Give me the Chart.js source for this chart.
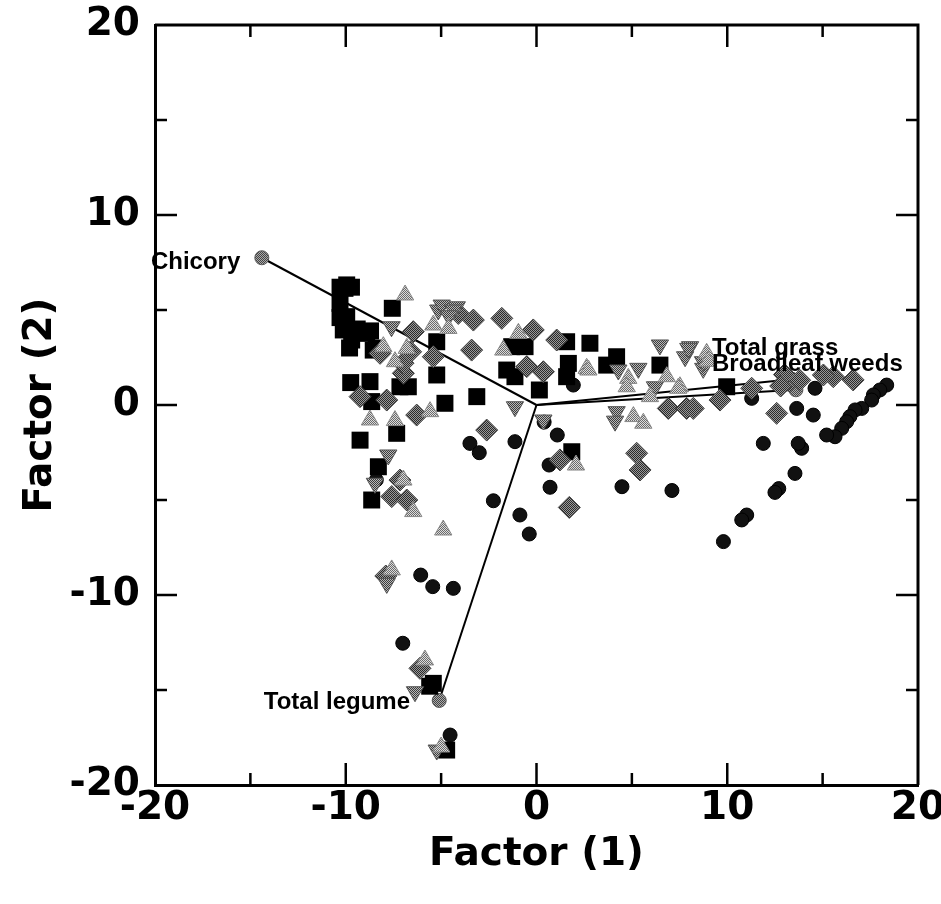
<!DOCTYPE html>
<html><head><meta charset="utf-8">
<script src="https://cdn.jsdelivr.net/npm/chart.js@4"></script>
<style>html,body{margin:0;padding:0;background:#fff}</style>
</head><body>
<canvas id="c" width="941" height="904" style="display:block"></canvas>
<script>
// ---- tick values ----
const majorTicks = [-20, -10, 0, 10, 20];
const minorTicks = [-15, -5, 5, 15];

// ---- black circles ----
const circleX = [18.36,18.0,17.66,17.57,17.05,16.7,16.43,16.26,16.0,15.65,15.21,14.6,14.51,13.64,13.9,13.72,13.55,12.7,12.5,11.02,10.76,9.8,11.89,11.28,
  1.93,-3.49,-3.0,-1.13,1.09,0.66,0.71,-0.87,-0.38,-2.26,-6.07,-5.44,-4.36,-8.4,-7.01,-4.53,4.48,7.1,0.4];
const circleY = [1.05,0.79,0.53,0.26,-0.18,-0.26,-0.61,-0.88,-1.23,-1.67,-1.58,0.88,-0.53,-0.18,-2.28,-2.02,-3.6,-4.4,-4.6,-5.79,-6.05,-7.19,-2.02,0.35,
  1.05,-2.02,-2.51,-1.93,-1.58,-3.16,-4.33,-5.79,-6.79,-5.04,-8.95,-9.56,-9.65,-3.95,-12.54,-17.37,-4.3,-4.5,-0.9];

// ---- black squares ----
const squareX = [-10.04,-10.3,-9.95,-10.13,-9.69,-8.9,-8.56,-9.95,-10.3,-9.7,-10.3,-9.4,-9.8,-8.7,-8.4,
  -7.56,-5.23,-5.23,-4.8,-9.74,-8.73,-8.64,-7.33,-9.25,-8.29,-8.64,-7.16,-6.72,-3.13,
  -1.3,-0.6,-1.56,-1.13,0.15,1.58,2.8,1.67,1.58,3.68,4.2,1.85,6.47,9.97,-5.41,-5.6,-4.71];
const squareY = [6.14,5.35,4.65,3.95,3.42,3.77,2.89,6.32,6.2,6.2,4.6,4.0,3.0,3.9,3.0,
  5.09,3.33,1.58,0.09,1.18,1.23,0.18,-1.49,-1.85,-3.25,-5.0,0.96,0.96,0.44,
  3.07,3.07,1.84,1.49,0.79,3.33,3.25,2.19,1.49,2.1,2.54,-2.46,2.1,0.96,-14.65,-14.8,-18.16];

// ---- dark grey diamonds ----
const diamondX = [-6.46,-5.41,-3.4,-3.31,-6.98,-6.28,-8.2,-9.25,-7.85,-1.82,-0.17,1.06,-4.1,0.36,-0.51,-2.61,1.23,5.25,5.43,6.91,7.87,1.72,
  9.62,11.28,13.29,15.56,16.6,8.22,15.04,12.59,13.0,13.8,12.8,-7.59,-6.8,-7.16,-6.11,-7.9,-7.0,-6.6];
const diamondY = [3.86,2.54,2.89,4.47,1.67,-0.53,2.72,0.44,0.26,4.56,3.95,3.42,4.82,1.75,2.02,-1.32,-2.89,-2.54,-3.42,-0.18,-0.18,-5.39,
  0.26,0.88,1.23,1.49,1.32,-0.18,1.58,-0.44,1.6,1.3,1.0,-4.82,-5.0,-3.95,-13.86,-9.0,2.2,2.8];

// ---- grey down-triangles ----
const downX = [-5.15,-4.18,-7.6,-4.97,-4.36,-4.6,-1.13,6.47,5.34,4.2,4.12,7.79,8.05,0.36,7.96,8.74,6.21,4.29,-7.77,-8.47,-7.85,-6.37,-5.23,8.73];
const downY = [5.0,5.17,4.12,5.26,5.0,4.7,-0.09,3.16,1.93,-0.35,-0.85,2.54,3.07,-0.79,2.98,1.93,0.96,1.84,-2.63,-4.12,-9.39,-15.09,-18.16,2.28];

// ---- light grey up-triangles ----
const upX = [-6.89,-5.41,-6.8,-5.58,-8.73,-7.42,-8.03,-4.62,-0.95,2.63,-1.74,2.07,5.08,5.6,4.81,4.73,6.83,7.52,2.72,7.43,8.92,5.95,
  -6.98,-6.46,-4.89,-7.59,-5.85,-5.0,-7.42,9.0];
const upY = [5.79,4.21,2.98,-0.35,-0.79,-0.82,3.07,4.03,3.77,1.93,2.89,-3.16,-0.61,-0.96,1.4,0.96,1.49,0.96,1.84,0.88,2.72,0.44,
  -3.95,-5.61,-6.58,-8.68,-13.42,-18.0,2.28,2.3];

// ---- biplot vectors ----
const vectorNames = ['Chicory', 'Total legume', 'Total grass', 'Broadleaf weeds'];
const vectorX = [-14.4, -5.1, 13.4, 13.6];
const vectorY = [7.75, -15.55, 1.35, 0.8];
const labelX = [-15.53, -6.63, 9.2, 9.2];
const labelY = [7.53, -15.63, 3.0, 2.16];
const labelAlign = ['right', 'right', 'left', 'left'];

const pts = (xs, ys) => xs.map((x, i) => ({x, y: ys[i]}));

// dithered fills, like the halftone greys of the original print
function dither(fg, bg) {
  const c = document.createElement('canvas');
  c.width = c.height = 2;
  const g = c.getContext('2d');
  g.fillStyle = bg; g.fillRect(0, 0, 2, 2);
  g.fillStyle = fg; g.fillRect(0, 0, 1, 1); g.fillRect(1, 1, 1, 1);
  return g.createPattern(c, 'repeat');
}
const ctx0 = document.getElementById('c').getContext('2d');

const datasets = [
  {label:'up', data: pts(upX, upY), pointStyle:'triangle', pointRadius:10, backgroundColor:dither('#6a6a6a','#dcdcdc'), borderColor:'#888', borderWidth:1},
  {label:'down', data: pts(downX, downY), pointStyle:'triangle', rotation:180, pointRadius:10, backgroundColor:dither('#3c3c3c','#b8b8b8'), borderColor:'#555', borderWidth:1},
  {label:'diamond', data: pts(diamondX, diamondY), pointStyle:'rectRot', pointRadius:11, backgroundColor:dither('#2a2a2a','#999999'), borderColor:'#444', borderWidth:1},
  {label:'square', data: pts(squareX, squareY), pointStyle:'rect', pointRadius:12, backgroundColor:'#000', borderColor:'#000', borderWidth:0},
  {label:'circle', data: pts(circleX, circleY), pointStyle:'circle', pointRadius:7, backgroundColor:'#111', borderColor:'#000', borderWidth:1},
];
vectorNames.forEach((n, i) => {
  datasets.push({label:n, type:'line', data:[{x:0,y:0},{x:vectorX[i], y:vectorY[i]}],
    showLine:true, borderColor:'#000', borderWidth:2, pointRadius:[0,7], pointBackgroundColor:dither('#444','#aaa'), pointBorderColor:'#555', pointBorderWidth:1, fill:false});
});

const frameTicks = {
  id:'frameTicks',
  afterDraw(chart) {
    const {ctx, chartArea:a, scales:{x, y}} = chart;
    ctx.save();
    ctx.strokeStyle = '#000';
    ctx.lineWidth = 3;
    ctx.beginPath();
    ctx.moveTo(a.left, a.top); ctx.lineTo(a.right, a.top); ctx.lineTo(a.right, a.bottom);
    ctx.stroke();
    ctx.lineWidth = 2.5;
    const mark = (vals, len) => {
      vals.forEach(v => {
        const px = x.getPixelForValue(v);
        ctx.beginPath(); ctx.moveTo(px, a.bottom); ctx.lineTo(px, a.bottom - len);
        ctx.moveTo(px, a.top); ctx.lineTo(px, a.top + len); ctx.stroke();
        const py = y.getPixelForValue(v);
        ctx.beginPath(); ctx.moveTo(a.left, py); ctx.lineTo(a.left + len, py);
        ctx.moveTo(a.right, py); ctx.lineTo(a.right - len, py); ctx.stroke();
      });
    };
    mark(majorTicks.slice(1, -1), 22);
    mark(minorTicks, 12);
    ctx.restore();
  }
};

const vecLabels = {
  id:'vecLabels',
  afterDatasetsDraw(chart) {
    const {ctx, scales:{x, y}} = chart;
    ctx.save();
    ctx.font = 'bold 24px "Liberation Sans", Arial, sans-serif';
    ctx.fillStyle = '#000';
    ctx.textBaseline = 'middle';
    vectorNames.forEach((n, i) => {
      ctx.textAlign = labelAlign[i];
      ctx.fillText(n, x.getPixelForValue(labelX[i]), y.getPixelForValue(labelY[i]));
    });
    ctx.restore();
  }
};

const noPad = s => { s.paddingTop = 0; s.paddingBottom = 0; s.paddingLeft = 0; s.paddingRight = 0; };
const tickFont = {family:'"DejaVu Sans", sans-serif', weight:'bold', size:39};
new Chart(document.getElementById('c'), {
  type:'scatter',
  data:{datasets},
  options:{
    responsive:false, animation:false, devicePixelRatio:1,
    layout:{padding:{left:0, right:23, top:25, bottom:0}},
    plugins:{legend:{display:false}, tooltip:{enabled:false}},
    scales:{
      x:{type:'linear', position:'bottom', min:-20, max:20,
        afterBuildTicks(s){ s.ticks = majorTicks.map(v => ({value:v})); },
        ticks:{font:tickFont, color:'#000', padding:0, maxRotation:0},
        grid:{display:false, drawTicks:false},
        border:{display:true, color:'#000', width:3},
        title:{display:true, text:'Factor (1)', font:tickFont, color:'#000', padding:{top:0, bottom:26}},
        afterFit(s){ s.height = 119; noPad(s); }
      },
      y:{type:'linear', position:'left', min:-20, max:20,
        afterBuildTicks(s){ s.ticks = majorTicks.map(v => ({value:v})); },
        ticks:{font:tickFont, color:'#000', padding:15},
        grid:{display:false, drawTicks:false},
        border:{display:true, color:'#000', width:3},
        title:{display:true, text:'Factor (2)', font:tickFont, color:'#000', padding:{top:17, bottom:0}},
        afterFit(s){ s.width = 155; noPad(s); }
      }
    }
  },
  plugins:[frameTicks, vecLabels]
});
</script>
</body></html>
